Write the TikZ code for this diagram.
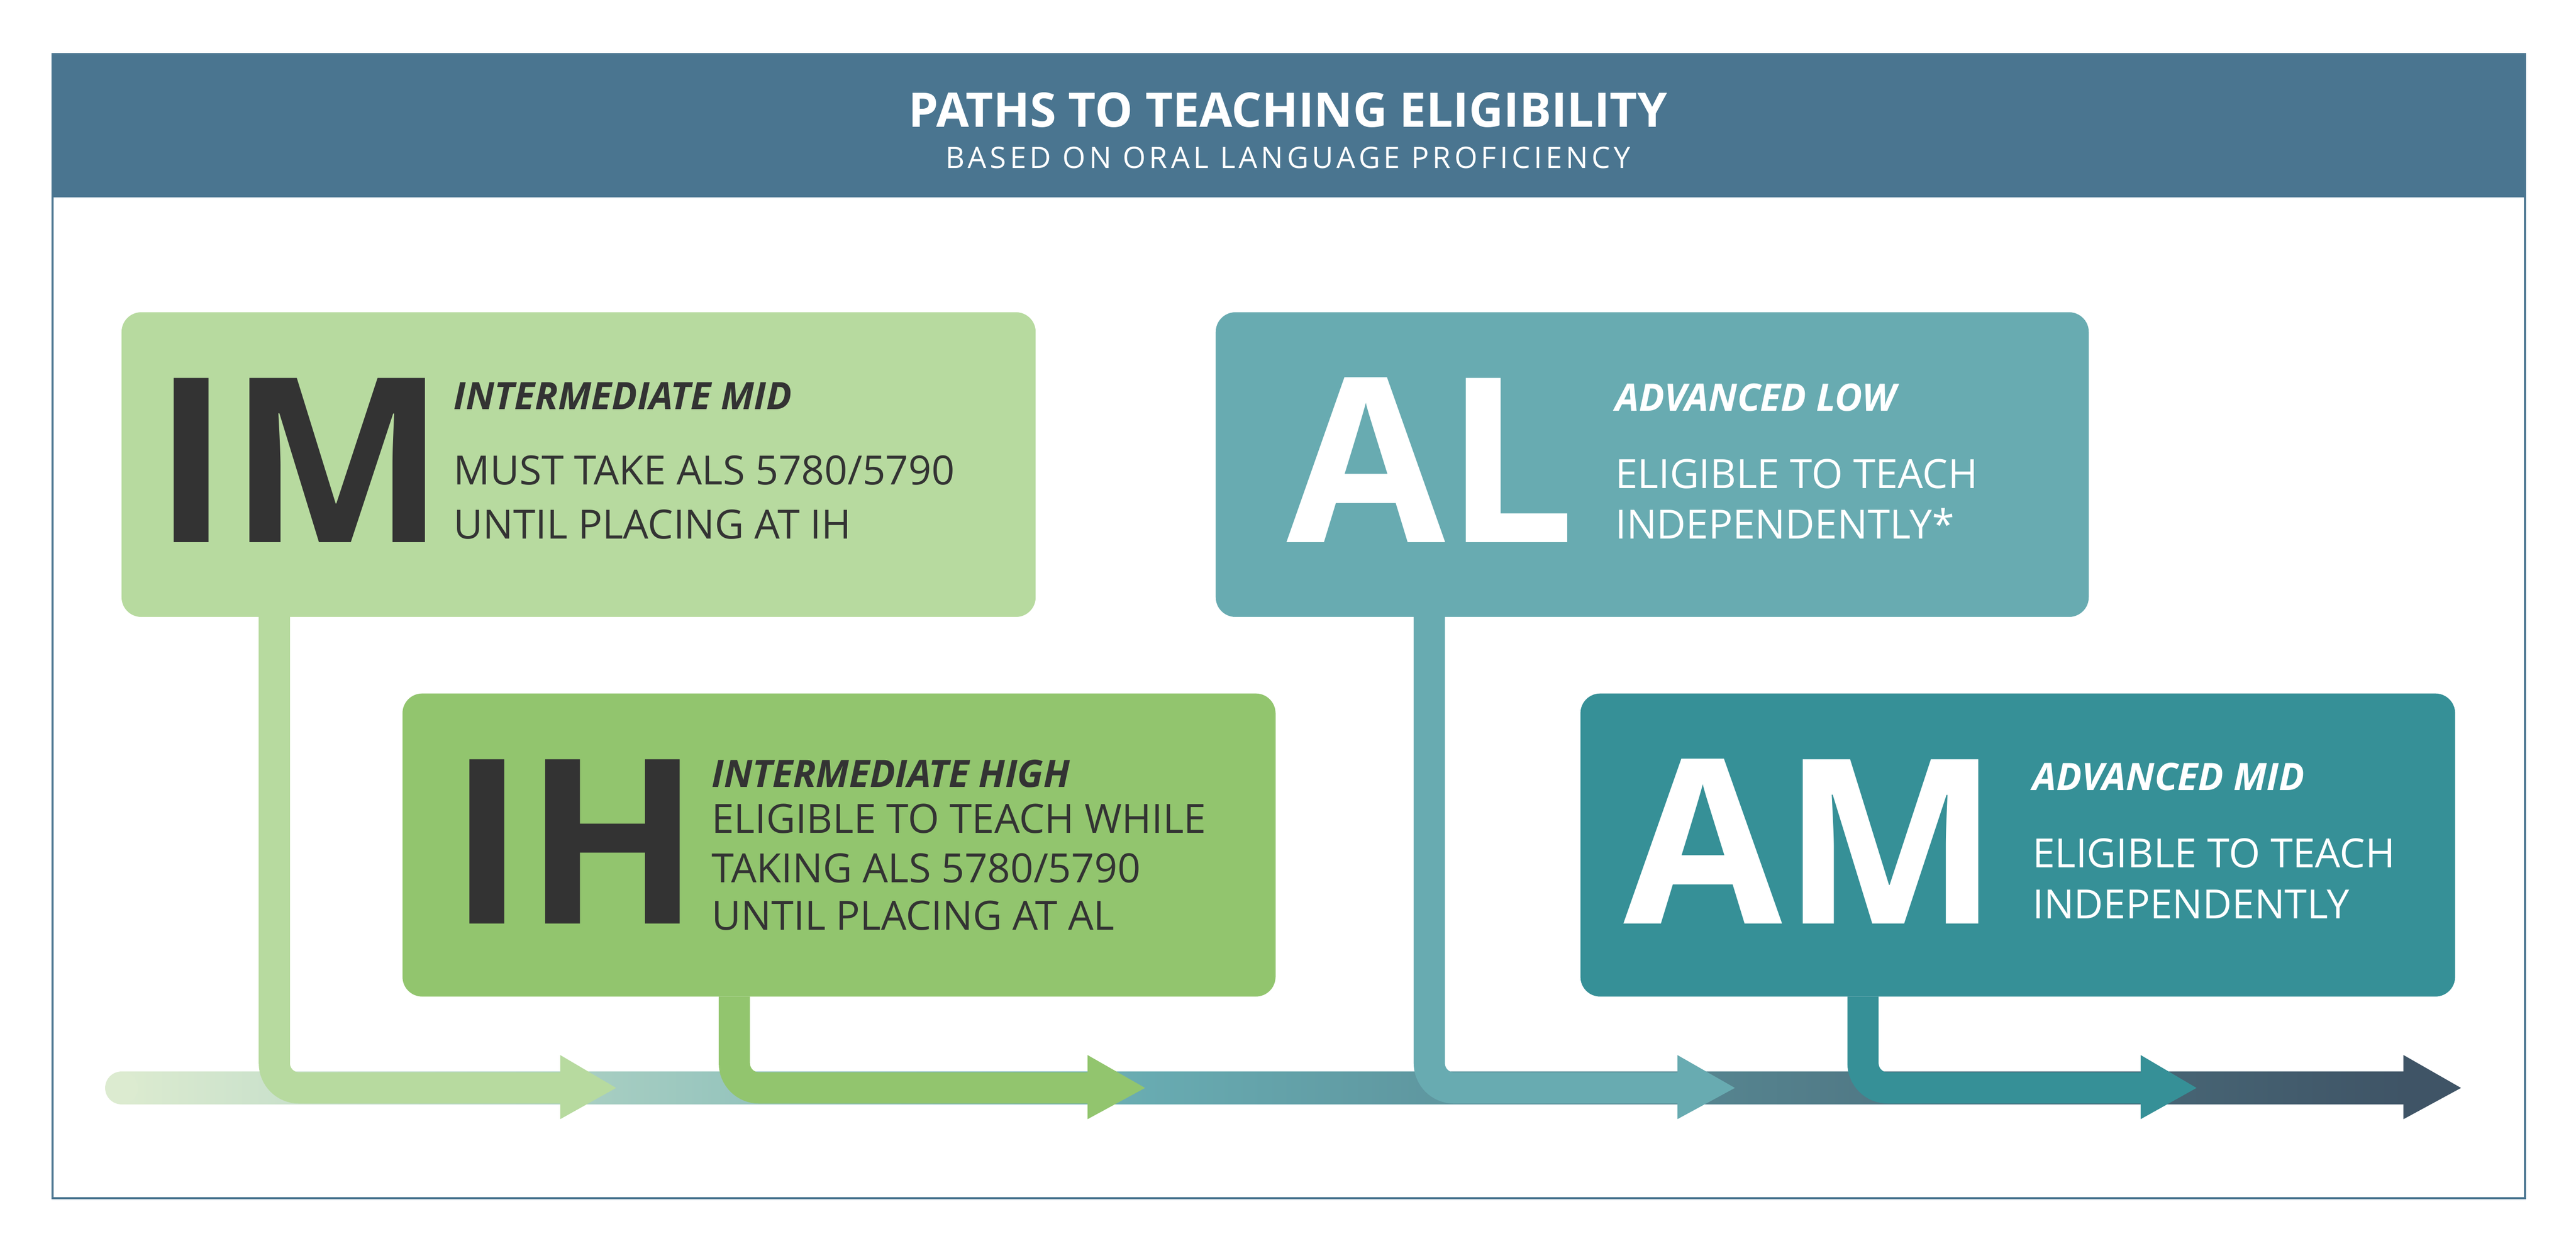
\documentclass[tikz,border=0pt]{standalone}
\usepackage{fontspec}
\setmainfont{Open Sans}
\newfontfamily\spaced[LetterSpace=12]{Open Sans}
\definecolor{hdr}{HTML}{4A7590}
\definecolor{cim}{HTML}{B7DA9F}
\definecolor{cih}{HTML}{92C56E}
\definecolor{cal}{HTML}{68ABB1}
\definecolor{cam}{HTML}{369097}
\definecolor{dk}{HTML}{333333}
\definecolor{g0}{HTML}{DCEBD0}
\definecolor{g1}{HTML}{3F5466}
\tikzset{
 box/.style={fill=#1, rounded corners=12pt, anchor=north west, inner sep=0pt},
 big/.style={anchor=base west, inner sep=0pt, font=\fontsize{140}{140}\selectfont\bfseries},
 ttl/.style={anchor=base west, inner sep=0pt, font=\fontsize{23}{23}\selectfont\bfseries\itshape},
 txt/.style={anchor=base west, inner sep=0pt, font=\fontsize{24.5}{24.5}\selectfont},
 conn/.style={draw=#1, line width=19pt, rounded corners=15pt},
 head/.style={fill=#1}
}
\begin{document}
\begin{tikzpicture}[x=1pt,y=-1pt]
\useasboundingbox[fill=white] (0,0) rectangle (1568,765.3);
% frame and header
\draw[hdr, line width=1.2pt] (32,33) rectangle (1537,729);
\fill[hdr] (32,33) rectangle (1537,120);
\node[white, font=\fontsize{29}{29}\selectfont\bfseries] (title) at (784,67) {PATHS TO TEACHING ELIGIBILITY};
\node[white, font=\fontsize{18}{18}\selectfont\spaced] (sub) at (784,96) {BASED ON ORAL LANGUAGE PROFICIENCY};
% main bar
\shade[left color=g0, right color=cal] (74,652) rectangle (700,672);
\fill[g0] (74,662) circle (10);
\shade[left color=cal, right color=g1] (699,652) rectangle (1464,672);
\fill[head=g1] (1463,642) -- (1498,662) -- (1463,681) -- cycle;
% boxes
\node[box=cim, minimum width=556pt, minimum height=185pt] (im) at (74,190) {};
\node[box=cih, minimum width=531pt, minimum height=184pt] (ih) at (245,422) {};
\node[box=cal, minimum width=531pt, minimum height=185pt] (al) at (740,190) {};
\node[box=cam, minimum width=532pt, minimum height=184pt] (am) at (962,422) {};
% connectors
\coordinate (h1) at (342,662); \coordinate (h2) at (663,662);
\coordinate (h3) at (1022,662); \coordinate (h4) at (1304,662);
\draw[conn=cim] ([xshift=93pt]im.south west) |- (h1);
\fill[head=cim] (341,642) -- (375,662) -- (341,681) -- cycle;
\draw[conn=cih] ([xshift=202pt]ih.south west) |- (h2);
\fill[head=cih] (662,642) -- (697,662) -- (662,681) -- cycle;
\draw[conn=cal] ([xshift=130pt]al.south west) |- (h3);
\fill[head=cal] (1021,642) -- (1056,662) -- (1021,681) -- cycle;
\draw[conn=cam] ([xshift=172pt]am.south west) |- (h4);
\fill[head=cam] (1303,642) -- (1337,662) -- (1303,681) -- cycle;
% redraw boxes on top
\fill[cim, rounded corners=12pt] (im.north west) rectangle (im.south east);
\fill[cih, rounded corners=12pt] (ih.north west) rectangle (ih.south east);
\fill[cal, rounded corners=12pt] (al.north west) rectangle (al.south east);
\fill[cam, rounded corners=12pt] (am.north west) rectangle (am.south east);
% IM
\node[big, dk] (imL) at (93,330) {IM};
\node[ttl, dk] (imT) at (276,249) {INTERMEDIATE MID};
\node[txt, dk] (im1) at (276,295) {MUST TAKE ALS 5780/5790};
\node[txt, dk] (im2) at (276,328) {UNTIL PLACING AT IH};
% IH
\node[big, dk] (ihL) at (273,562) {IH};
\node[ttl, dk] (ihT) at (433,479) {INTERMEDIATE HIGH};
\node[txt, dk] (ih1) at (433,507) {ELIGIBLE TO TEACH WHILE};
\node[txt, dk] (ih2) at (433,537) {TAKING ALS 5780/5790};
\node[txt, dk] (ih3) at (433,566) {UNTIL PLACING AT AL};
% AL
\node[big, white] (alL) at (783,330) {AL};
\node[ttl, white] (alT) at (983,250) {ADVANCED LOW};
\node[txt, white] (al1) at (983,297) {ELIGIBLE TO TEACH};
\node[txt, white] (al2) at (983,328) {INDEPENDENTLY*};
% AM
\node[big, white] (amL) at (988,562) {AM};
\node[ttl, white] (amT) at (1237,481) {ADVANCED MID};
\node[txt, white] (am1) at (1237,528) {ELIGIBLE TO TEACH};
\node[txt, white] (am2) at (1237,559) {INDEPENDENTLY};
\end{tikzpicture}
\end{document}
